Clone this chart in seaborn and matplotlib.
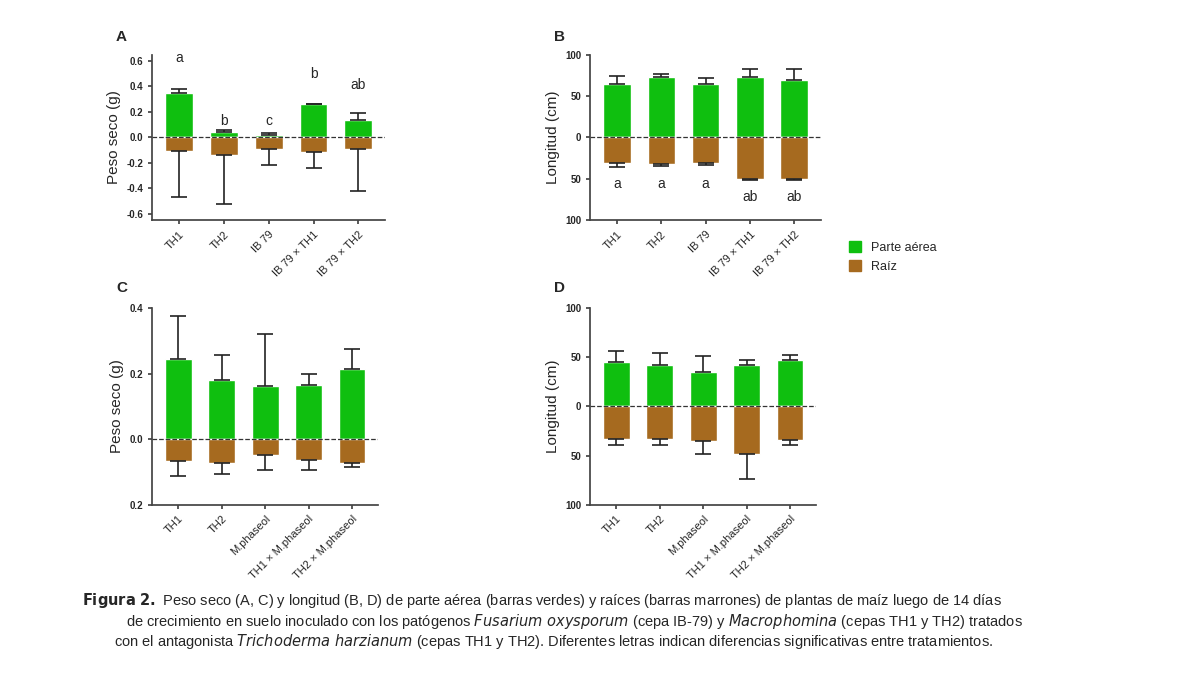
import matplotlib
matplotlib.use("Agg")
import matplotlib.pyplot as plt
import seaborn as sns
import pandas as pd
import numpy as np
from matplotlib.patches import Patch

sns.set_theme(style="ticks")
plt.rcParams['font.family'] = ['Liberation Sans', 'DejaVu Sans']

cats_ab = ["TH1", "TH2", "IB 79", "IB 79 × TH1", "IB 79 × TH2"]
cats_cd = ["TH1", "TH2", "M.phaseol", "TH1 × M.phaseol", "TH2 × M.phaseol"]

a_shoot = [0.35, 0.04, 0.02, 0.26, 0.14]
a_shoot_top = [0.38, 0.055, 0.035, 0.265, 0.19]
a_root = [0.105, 0.14, 0.09, 0.115, 0.095]
a_root_bot = [0.465, 0.525, 0.22, 0.24, 0.425]
a_letters = ["a", "b", "c", "b", "ab"]
a_letter_y = [0.62, 0.13, 0.13, 0.50, 0.41]

b_shoot = [65, 73, 65, 73, 69]
b_shoot_top = [74, 77, 72, 83, 83]
b_root = [31, 32, 31, 50, 50]
b_root_bot = [36, 35, 33, 52, 52]
b_letters = ["a", "a", "a", "ab", "ab"]
b_letter_y = [-57, -57, -57, -72, -72]

c_shoot = [0.245, 0.18, 0.163, 0.166, 0.215]
c_shoot_top = [0.375, 0.255, 0.32, 0.2, 0.275]
c_root = [0.065, 0.072, 0.048, 0.063, 0.073]
c_root_bot = [0.113, 0.106, 0.093, 0.095, 0.085]

d_shoot = [45, 42, 35, 42, 47]
d_shoot_top = [56, 54, 51, 47, 52]
d_root = [33, 33, 35, 48, 34]
d_root_bot = [39, 39, 48, 74, 39]

GREEN = "#0fbf0f"
BROWN = "#a66a1f"

fig = plt.figure(figsize=(12, 6.75), dpi=100)

def panel(rect, cats, shoot, stop, root, rbot, ylim, yticks, ylabel, letter, letters=None, ly=None):
    ax = fig.add_axes(rect)
    df = pd.DataFrame({"cat": cats * 2,
                       "val": list(shoot) + [-r for r in root],
                       "part": ["s"] * 5 + ["r"] * 5})
    sns.barplot(data=df[df.part == "s"], x="cat", y="val", color=GREEN, width=0.62,
                ax=ax, errorbar=None, saturation=1)
    sns.barplot(data=df[df.part == "r"], x="cat", y="val", color=BROWN, width=0.62,
                ax=ax, errorbar=None, saturation=1)
    x = np.arange(5)
    s = np.array(shoot); r = -np.array(root)
    ax.errorbar(x, s, yerr=[np.zeros(5), np.array(stop) - s], fmt="none",
                ecolor="#222", elinewidth=1.2, capsize=6, capthick=1.2)
    ax.errorbar(x, r, yerr=[np.array(rbot) + r, np.zeros(5)], fmt="none",
                ecolor="#222", elinewidth=1.2, capsize=6, capthick=1.2)
    ax.axhline(0, color="#333", ls="--", lw=0.9)
    ax.set_ylim(*ylim)
    ax.set_yticks(yticks)
    ax.set_yticklabels([f"{abs(t):g}" if not isinstance(t, float) or abs(t) >= 1 else
                        (f"{t:.1f}" if letter == "A" else f"{abs(t):.1f}") for t in yticks],
                       fontsize=7, fontweight="bold")
    ax.set_xlim(-0.6, 4.6)
    ax.set_xticks(x)
    ax.set_xticklabels(cats, rotation=45, ha="right", rotation_mode="anchor", fontsize=8)
    ax.set_xlabel("")
    ax.set_ylabel(ylabel, fontsize=11)
    for sp in ["top", "right"]:
        ax.spines[sp].set_visible(False)
    for sp in ["left", "bottom"]:
        ax.spines[sp].set_color("#444")
    ax.tick_params(axis="both", length=3, color="#444")
    ax.text(-0.16, 1.08, letter, transform=ax.transAxes, fontsize=11, fontweight="bold")
    if letters:
        for xi, (l, y) in enumerate(zip(letters, ly)):
            ax.text(xi, y, l, ha="center", va="center", fontsize=10)
    return ax

panel([0.127, 0.674, 0.194, 0.245], cats_ab, a_shoot, a_shoot_top, a_root, a_root_bot,
      (-0.65, 0.65), [-0.6, -0.4, -0.2, 0.0, 0.2, 0.4, 0.6], "Peso seco (g)", "A",
      a_letters, a_letter_y)
panel([0.492, 0.674, 0.192, 0.245], cats_ab, b_shoot, b_shoot_top, b_root, b_root_bot,
      (-100, 100), [-100, -50, 0, 50, 100], "Longitud (cm)", "B",
      b_letters, b_letter_y)
panel([0.127, 0.252, 0.188, 0.292], cats_cd, c_shoot, c_shoot_top, c_root, c_root_bot,
      (-0.2, 0.4), [-0.2, 0.0, 0.2, 0.4], "Peso seco (g)", "C")
panel([0.492, 0.252, 0.188, 0.292], cats_cd, d_shoot, d_shoot_top, d_root, d_root_bot,
      (-100, 100), [-100, -50, 0, 50, 100], "Longitud (cm)", "D")

fig.legend(handles=[Patch(color=GREEN, label="Parte aérea"), Patch(color=BROWN, label="Raíz")],
           loc="upper left", bbox_to_anchor=(0.698, 0.66), frameon=False, fontsize=9,
           handlelength=1.0, handleheight=1.0)

fig.text(0.068, 0.103, r"$\bf{Figura\ 2.}$ Peso seco (A, C) y longitud (B, D) de parte aérea (barras verdes) y raíces (barras marrones) de plantas de maíz luego de 14 días",
         fontsize=10.5)
fig.text(0.105, 0.073, r"de crecimiento en suelo inoculado con los patógenos $\it{Fusarium\ oxysporum}$ (cepa IB-79) y $\it{Macrophomina}$ (cepas TH1 y TH2) tratados",
         fontsize=10.5)
fig.text(0.095, 0.043, r"con el antagonista $\it{Trichoderma\ harzianum}$ (cepas TH1 y TH2). Diferentes letras indican diferencias significativas entre tratamientos.",
         fontsize=10.5)

fig.savefig("out.png", dpi=100)
